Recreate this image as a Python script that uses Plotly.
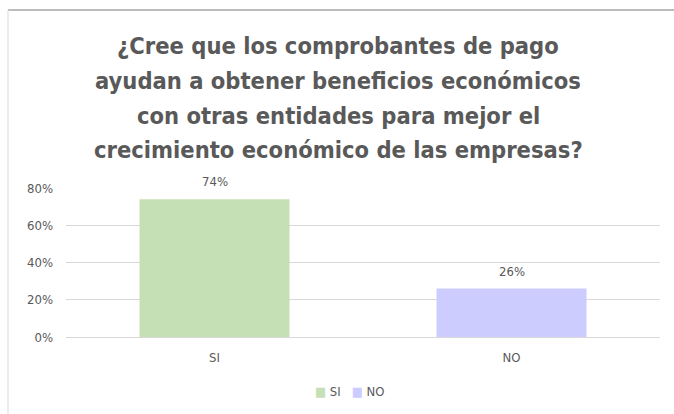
import plotly.graph_objects as go

categories = ["SI", "NO"]
values = [0.74, 0.26]
labels = ["74%", "26%"]
colors = ["#C5E0B4", "#CCCCFF"]
tick_vals = [0, 0.2, 0.4, 0.6, 0.8]
tick_text = ["0%", "20%", "40%", "60%", "80%"]
title_lines = [
    "¿Cree que los comprobantes de pago",
    "ayudan a obtener beneficios económicos",
    "con otras entidades para mejor el",
    "crecimiento económico de las empresas?",
]

FONT = "DejaVu Sans Condensed, sans-serif"
GRAY = "#595959"
W, H = 674, 414
L, R, T, B = 66, 14, 188, 77
PH = H - T - B  # plot height in px


def py(pix):
    """Convert a pixel row (from top) to paper y."""
    return (H - B - pix) / PH


def px(pix):
    return (pix - L) / (W - L - R)


fig = go.Figure()
for cat, val, col in zip(categories, values, colors):
    fig.add_trace(go.Bar(
        x=[cat], y=[val], name=cat, width=0.505,
        marker=dict(color=col, line=dict(width=0)),
        showlegend=False,
    ))

annotations = []
# title, one annotation per line for Excel-like line spacing
for i, line in enumerate(title_lines):
    annotations.append(dict(
        text="<b>" + line + "</b>", xref="paper", yref="paper",
        x=px(338), y=py(46 + i * 34.8), xanchor="center", yanchor="middle",
        showarrow=False, font=dict(size=23.5, color=GRAY, family=FONT),
    ))
# data labels
for cat, val, lab in zip(categories, values, labels):
    annotations.append(dict(
        text=lab, x=cat, y=val, xref="x", yref="y", yanchor="bottom",
        yshift=8, showarrow=False, font=dict(size=13, color=GRAY, family=FONT),
    ))
# legend
legend_text = "   ".join(
    f"<span style='color:{c}'>■</span> {n}" for n, c in zip(categories, colors)
)
annotations.append(dict(
    text=legend_text, xref="paper", yref="paper", x=px(350), y=py(391),
    xanchor="center", yanchor="middle", showarrow=False,
    font=dict(size=13, color=GRAY, family=FONT),
))

fig.update_layout(
    width=W, height=H,
    margin=dict(l=L, r=R, t=T, b=B),
    paper_bgcolor="white", plot_bgcolor="white",
    barmode="overlay",
    font=dict(family=FONT, color=GRAY, size=13),
    showlegend=False,
    annotations=annotations,
    shapes=[
        dict(type="line", xref="paper", yref="paper", x0=px(8), x1=px(674), y0=py(10), y1=py(10),
             line=dict(color="#A6A6A6", width=1.5)),
        dict(type="line", xref="paper", yref="paper", x0=px(8), x1=px(8), y0=py(10), y1=py(414),
             line=dict(color="#D9D9D9", width=1)),
    ],
)
fig.update_xaxes(showgrid=False, showline=True, linecolor="#D9D9D9", ticks="",
                 ticklabelstandoff=8,
                 tickfont=dict(size=13, color=GRAY, family=FONT))
fig.update_yaxes(range=[0, 0.8], tickvals=tick_vals, ticktext=tick_text,
                 showgrid=True, gridcolor="#D9D9D9", zeroline=False, showline=False,
                 ticks="", ticklabelstandoff=12,
                 tickfont=dict(size=13, color=GRAY, family=FONT))

fig.write_html("out.html")
